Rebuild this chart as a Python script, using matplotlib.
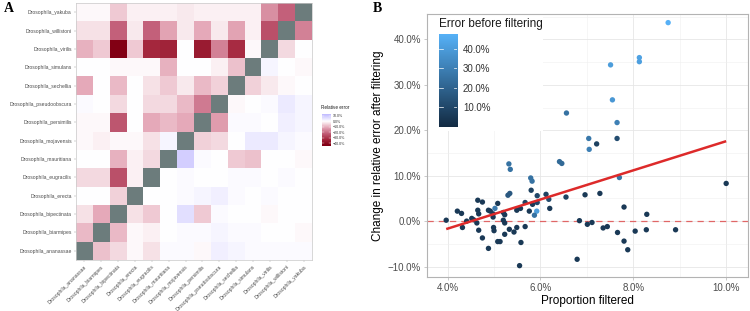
import numpy as np
import matplotlib
matplotlib.use("Agg")
import matplotlib.pyplot as plt
from matplotlib.colors import LinearSegmentedColormap
from matplotlib.patches import Rectangle

# ---------------- Panel A data ----------------
species = ["ananassae", "biarmipes", "bipectinata", "erecta", "eugracilis",
           "mauritiana", "mojavensis", "persimilis", "pseudoobscura",
           "sechellia", "simulans", "virilis", "willistoni", "yakuba"]
nan = np.nan
# rows = species (bottom to top), columns = species (left to right); values in %
rel_error = [
    [nan, -8, -5, -1, -4, 1, 1, -1, 3, 2, 1, 1, 1, 1],          # ananassae
    [-9, nan, -9, -1, -2, 0, 1, 1, 2, 1, 1, 0, 0, -1],          # biarmipes
    [-4, -11, nan, -4, -7, 0, 6, -7, 1, 0, 0, -1, 0, 0],        # bipectinata
    [0, 0, -6, nan, 0, 0, 1, 2, 3, 1, 0, 1, 0, 0],              # erecta
    [-5, -5, -25, -2, nan, 0, 1, 0, 0, 1, 1, 0, 1, 0],          # eugracilis
    [0, 0, -10, -2, -5, nan, 9, 1, 0, -7, -8, 0, 0, -1],        # mauritiana
    [-1, -2, -1, -1, -4, 2, nan, -6, -5, 0, 4, 4, 2, 1],        # mojavensis
    [-1, -1, -24, 0, -11, -9, -11, nan, -13, 1, 1, 0, 3, 2],    # persimilis
    [1, 0, -5, 0, -5, -5, -9, -18, nan, -1, 0, 1, 4, 2],        # pseudoobscura
    [-11, 0, -9, 0, -4, -7, -3, -9, -6, nan, -6, -3, -1, 0],    # sechellia
    [0, 0, -1, -1, -1, -10, 0, 0, -2, -8, nan, 2, 0, -1],       # simulans
    [-10, -7, -43, -7, -33, -34, 0, -36, -17, -32, -1, nan, -5, 0],  # virilis
    [-4, -4, -22, -3, -22, -12, -3, -11, -3, -12, -2, -25, nan, -17],  # willistoni
    [-1, -1, -7, -2, -2, -2, -3, -2, -2, -2, -2, -15, -22, nan],  # yakuba
]
heat_ticks = [10, 0, -10, -20, -30, -40]

# ---------------- Panel B data ----------------
prop_filtered = [8.75, 8.13, 8.13, 7.51, 7.55, 6.56, 7.65, 7.04, 7.65, 7.21, 7.05,
                 5.32, 5.35, 6.41, 6.46, 5.79, 5.82, 7.70, 10.0, 5.80, 5.34, 5.30,
                 6.12, 6.96, 7.28, 6.55, 6.18, 4.65, 4.75, 5.08, 5.67, 5.93, 5.83,
                 6.20, 7.80, 4.21, 4.30, 4.65, 4.67, 4.88, 4.92, 5.02, 4.98, 5.20,
                 5.23, 5.49, 5.57, 5.76, 5.92, 5.87, 8.29, 5.93,
                 3.97, 4.41, 4.52, 4.56, 4.98, 5.20, 5.23, 4.63, 6.84, 7.01, 7.11,
                 4.32, 4.67, 4.99, 5.00, 5.33, 5.49, 5.67, 7.35, 7.44, 7.66, 8.04,
                 8.28, 8.91, 4.75, 5.23, 5.43, 5.08, 5.13, 5.58, 4.88, 7.80, 7.88,
                 6.79, 5.55]
change_error = [43.7, 36.0, 35.1, 34.4, 26.7, 23.8, 21.7, 18.2, 18.2, 17.0, 15.8,
                12.6, 11.4, 13.1, 12.7, 9.5, 8.8, 9.6, 8.3, 6.8, 6.1, 5.7,
                5.9, 5.8, 6.1, 5.3, 4.8, 4.6, 4.2, 3.9, 4.1, 4.1, 3.7,
                2.8, 3.1, 2.2, 1.7, 2.4, 1.6, 2.4, 2.2, 2.8, 1.6, 1.9,
                1.4, 2.4, 2.8, 2.2, 2.2, 1.3, 1.5, 5.6,
                0.2, 0.0, 0.6, 0.3, 0.9, 0.2, -0.4, -0.4, 0.1, -0.7, -0.3,
                -1.4, -2.0, -1.4, -2.1, -1.8, -1.4, -1.2, -1.5, -1.2, -2.5, -2.2,
                -1.9, -1.9, -3.7, -2.9, -2.4, -4.5, -4.5, -4.7, -6.0, -4.4, -6.3,
                -8.4, -9.8]
error_before = [47, 42, 41, 40, 38, 25, 30, 27, 12, 8, 30,
                25, 25, 22, 22, 25, 25, 26, 5, 8, 16, 16,
                8, 5, 5, 8, 12, 5, 5, 5, 8, 10, 5,
                5, 5, 5, 5, 5, 5, 5, 5, 28, 5, 5,
                5, 5, 5, 5, 40, 25, 5, 10,
                5, 5, 5, 5, 5, 5, 5, 5, 5, 5, 5,
                5, 5, 5, 5, 5, 5, 5, 5, 5, 5, 5,
                5, 5, 5, 5, 5, 5, 5, 5, 5, 5, 5,
                5, 5]
fit_x = [3.97, 10.0]
fit_y = [-1.75, 17.6]
b_xticks = [4, 6, 8, 10]
b_yticks = [-10, 0, 10, 20, 30, 40]
b_cbar_ticks = [10, 20, 30, 40]

# ---------------- Figure ----------------
W, H = 750, 311
fig = plt.figure(figsize=(7.5, 3.11), dpi=100)
SANS = "Liberation Sans"
SERIF = "Liberation Serif"


def rect(x0, y0, x1, y1):
    return [x0 / W, 1 - y1 / H, (x1 - x0) / W, (y1 - y0) / H]


# heatmap colormap (value -> colour, through white at 0)
hvmax = 43.0
heat_cmap = LinearSegmentedColormap.from_list("rel", [
    (0.0, (0.51, 0.0, 0.08)),
    (0.12, (0.65, 0.16, 0.25)),
    (0.25, (0.77, 0.39, 0.49)),
    (0.375, (0.90, 0.67, 0.73)),
    (0.5, (1.0, 1.0, 1.0)),
    (0.62, (0.80, 0.78, 1.0)),
    (1.0, (0.2, 0.2, 1.0)),
])
heat_cmap.set_bad("#6c7c7c")

axA = fig.add_axes(rect(76, 3, 312, 260))
M = np.ma.masked_invalid(np.array(rel_error, dtype=float))
axA.pcolormesh(np.arange(len(species) + 1) - 0.5, np.arange(len(species) + 1) - 0.5,
               M, cmap=heat_cmap, vmin=-hvmax, vmax=hvmax)
axA.set_xlim(-0.5, len(species) - 0.5)
axA.set_ylim(-0.5, len(species) - 0.5)
labels = ["Drosophila_" + s for s in species]
axA.set_xticks(range(len(species)))
axA.set_yticks(range(len(species)))
axA.set_xticklabels(labels, rotation=45, ha="right", va="top",
                    rotation_mode="anchor", fontsize=3.6, color="#4d4d4d", family=SANS)
axA.set_yticklabels(labels, fontsize=3.6, color="#4d4d4d", family=SANS)
axA.tick_params(length=1.5, width=0.3, color="#999999", pad=1.5)
for sp in axA.spines.values():
    sp.set_color("#c8c8c8")
    sp.set_linewidth(0.5)

# heatmap colorbar
cax = fig.add_axes(rect(322, 114, 331, 146))
c_lo, c_hi = -45.0, 13.0
grad = np.linspace(c_lo, c_hi, 200).reshape(-1, 1)
cax.imshow(grad, aspect="auto", origin="lower", extent=[0, 1, c_lo, c_hi],
           cmap=heat_cmap, vmin=-hvmax, vmax=hvmax)
cax.set_xticks([])
cax.yaxis.tick_right()
cax.set_yticks(heat_ticks)
cax.set_yticklabels([f"{v:.1f}%".replace("-", "\u2212") for v in heat_ticks],
                    fontsize=2.6, color="#333333", family=SANS)
cax.tick_params(length=0, pad=1.5)
for v in heat_ticks:
    cax.plot([0, 0.2], [v, v], color="white", lw=0.3)
    cax.plot([0.8, 1], [v, v], color="white", lw=0.3)
for sp in cax.spines.values():
    sp.set_visible(False)
fig.text(321 / W, 1 - 107.5 / H, "Relative error", fontsize=3.3, family=SANS,
         color="#1a1a1a", va="center", ha="left")

# panel letters
fig.text(9 / W, 1 - 9 / H, "A", fontsize=10, fontweight="bold", family=SERIF,
         ha="center", va="center")
fig.text(377 / W, 1 - 9 / H, "B", fontsize=10, fontweight="bold", family=SERIF,
         ha="center", va="center")

# ---------------- Panel B ----------------
sc_cmap = LinearSegmentedColormap.from_list("err", ["#132B43", "#56B1F7"])
c_min, c_max = 0.0, 47.3

axB = fig.add_axes(rect(426.7, 14, 748, 277))
axB.set_xlim(3.55, 10.47)
axB.set_ylim(-12.3, 45.6)
axB.set_axisbelow(True)
axB.set_xticks(b_xticks)
axB.set_xticks([5, 7, 9], minor=True)
axB.set_yticks(b_yticks)
axB.set_yticks([-5, 5, 15, 25, 35, 45], minor=True)
axB.set_xticklabels([f"{v:.1f}%" for v in b_xticks], family=SANS)
axB.set_yticklabels([f"{v:.1f}%".replace("-", "\u2212") for v in b_yticks], family=SANS)
axB.tick_params(which="major", labelsize=7, labelcolor="#4d4d4d", length=2,
                width=0.5, color="#b3b3b3", pad=2)
axB.tick_params(which="minor", length=0)
axB.grid(True, which="major", color="#e6e6e6", lw=0.6)
axB.grid(True, which="minor", color="#efefef", lw=0.4)
for sp in axB.spines.values():
    sp.set_color("#b3b3b3")
    sp.set_linewidth(0.8)

axB.axhline(0, color="#e06666", lw=0.9, ls=(0, (5, 4)), zorder=1.5)
axB.scatter(prop_filtered, change_error, c=error_before, cmap=sc_cmap,
            vmin=c_min, vmax=c_max, s=15, linewidths=0, zorder=3)
axB.plot(fit_x, fit_y, color="#dd2a2a", lw=1.8, zorder=4, solid_capstyle="butt")

axB.set_xlabel("Proportion filtered", fontsize=8.5, family=SANS, labelpad=2)
axB.set_ylabel("Change in relative error after filtering", fontsize=8.5,
               family=SANS, labelpad=3)

# legend background and colorbar
axB.add_patch(Rectangle((427.5 / W, 1 - 131 / H), (543 - 427.5) / W, (131 - 14.5) / H,
                        transform=fig.transFigure, facecolor="white",
                        edgecolor="none", zorder=1))
fig.text(439 / W, 1 - 24 / H, "Error before filtering", fontsize=8.5, family=SANS,
         ha="left", va="center", color="#1a1a1a")
bcax = fig.add_axes(rect(439, 34.3, 457.3, 126.7))
g2 = np.linspace(c_min, c_max, 200).reshape(-1, 1)
bcax.imshow(g2, aspect="auto", origin="lower", extent=[0, 1, c_min, c_max],
            cmap=sc_cmap, vmin=c_min, vmax=c_max)
bcax.set_xticks([])
bcax.yaxis.tick_right()
bcax.set_yticks(b_cbar_ticks)
bcax.set_yticklabels([f"{v:.1f}%" for v in b_cbar_ticks], fontsize=7,
                     color="#333333", family=SANS)
bcax.tick_params(length=0, pad=4)
for v in b_cbar_ticks:
    bcax.plot([0, 0.2], [v, v], color="white", lw=0.5)
    bcax.plot([0.8, 1], [v, v], color="white", lw=0.5)
for sp in bcax.spines.values():
    sp.set_visible(False)

fig.savefig("out.png", dpi=100)
